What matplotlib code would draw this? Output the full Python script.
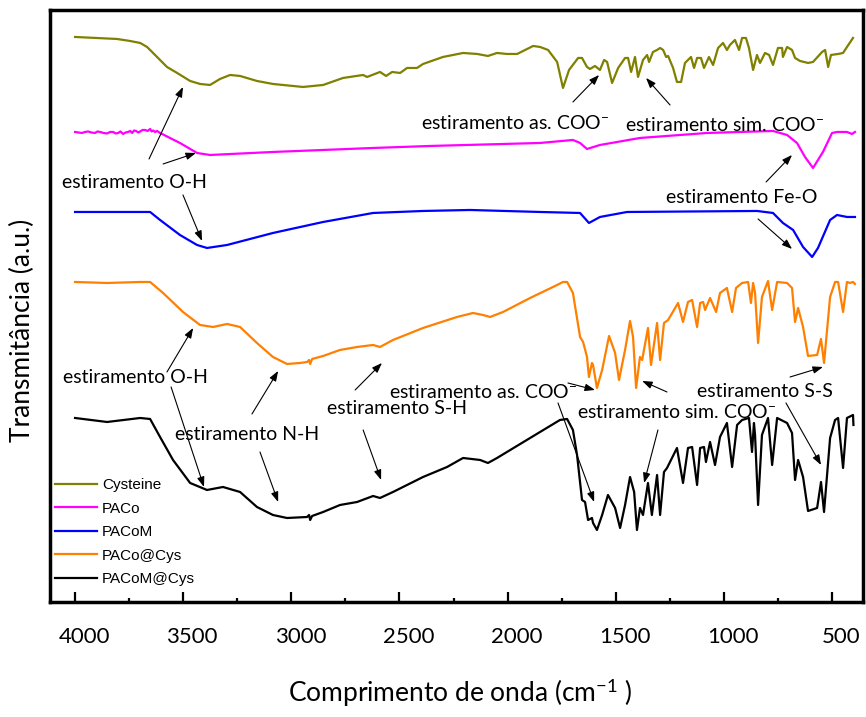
import matplotlib
matplotlib.use('Agg')
import matplotlib.pyplot as plt
from matplotlib.ticker import MultipleLocator
from matplotlib.transforms import ScaledTranslation
import numpy as np

plt.rcParams.update({
    'font.family': 'Lato',
    'mathtext.fontset': 'custom',
    'mathtext.rm': 'Lato',
    'mathtext.it': 'Lato:italic',
    'mathtext.bf': 'Lato:bold',
})

# FTIR spectra, (wavenumber cm-1, transmittance a.u. incl. stacking offset)
cysteine = [
    (4000, 565), (3806, 563), (3746, 561), (3699, 559), (3667, 555), (3630, 547),
    (3575, 535), (3528, 529), (3468, 521), (3422, 518), (3376, 517), (3330, 523),
    (3283, 527), (3237, 526), (3159, 521),
    (3085, 518), (2946, 515), (2853, 517), (2761, 524), (2668, 527), (2650, 525),
    (2590, 530), (2562, 526), (2534, 530), (2497, 529), (2465, 534), (2419, 534),
    (2391, 538), (2299, 545), (2206, 549), (2141, 548), (2091, 546), (2049, 549),
    (2003, 548), (1956, 548), (1882, 556), (1850, 555), (1813, 552), (1771, 540),
    (1744, 514), (1716, 532), (1674, 544), (1656, 544), (1633, 535), (1619, 533),
    (1596, 536), (1573, 532), (1554, 542), (1540, 540), (1517, 519), (1489, 534),
    (1457, 544), (1443, 544), (1429, 530), (1411, 545), (1397, 525), (1374, 542),
    (1355, 547), (1346, 540), (1328, 550), (1309, 552), (1295, 554), (1281, 552),
    (1267, 545), (1258, 546), (1235, 534), (1217, 520), (1198, 520), (1180, 539),
    (1152, 545), (1138, 534), (1124, 544), (1106, 544), (1092, 534), (1069, 545),
    (1050, 537), (1027, 554), (1004, 559), (986, 552), (972, 557), (949, 562),
    (930, 552), (916, 564), (898, 564), (884, 554), (865, 532), (847, 547),
    (833, 539), (810, 549), (791, 547), (773, 537), (750, 554), (731, 554),
    (727, 545), (708, 555), (685, 552), (671, 544), (648, 541), (611, 539),
    (588, 540), (546, 550), (532, 552), (518, 535), (505, 547), (472, 548),
    (449, 549), (431, 555), (403, 564),
]

paco = [
    (4000, 470), (3985, 469.5), (3968, 469), (3954, 470), (3940, 470.5), (3925, 469.5),
    (3908, 469), (3896, 470.5), (3884, 470), (3868, 469), (3852, 468.5), (3838, 470),
    (3824, 470), (3812, 468.5), (3801, 469), (3790, 470.5), (3778, 468), (3766, 469.5),
    (3755, 470), (3745, 471), (3736, 469), (3727, 471.5), (3718, 471), (3708, 469.5),
    (3699, 470.5), (3688, 472), (3676, 472), (3664, 471), (3653, 473), (3646, 470.5),
    (3639, 471.5), (3630, 470), (3621, 471), (3607, 469),
    (3515, 459), (3436, 449), (3376, 447), (3085, 450), (2622, 454), (2359, 456),
    (1850, 459), (1698, 462), (1665, 459), (1633, 453), (1573, 457), (1388, 464),
    (1078, 469), (773, 471), (708, 467), (662, 459), (625, 445), (588, 434),
    (542, 450), (500, 469), (477, 470), (431, 470), (408, 468), (394, 470),
]

pacom = [
    (4000, 390), (3653, 390), (3607, 382), (3515, 367), (3436, 357), (3390, 354),
    (3297, 357), (3085, 369), (2853, 380), (2622, 389), (2391, 391), (2174, 392),
    (1850, 390), (1665, 389), (1624, 379), (1573, 385), (1448, 390), (847, 391),
    (773, 389), (727, 379), (680, 372), (634, 355), (592, 345), (565, 354),
    (509, 382), (477, 387), (431, 385), (394, 385),
]

paco_cys = [
    (4000, 320), (3852, 319), (3699, 320), (3653, 320), (3593, 309), (3501, 290),
    (3422, 277), (3362, 275), (3297, 278), (3237, 275), (3159, 259), (3085, 245),
    (3020, 238), (2960, 239), (2927, 240), (2918, 242), (2913, 238), (2904, 243),
    (2853, 246), (2775, 252), (2696, 255), (2622, 257), (2590, 255), (2530, 262),
    (2391, 274), (2234, 285), (2160, 289), (2114, 287), (2081, 285), (2021, 290),
    (1896, 304), (1771, 317), (1744, 320), (1725, 320), (1698, 309), (1665, 265),
    (1651, 260), (1633, 245), (1624, 225), (1610, 239), (1605, 237), (1587, 214),
    (1563, 232), (1531, 266), (1503, 249), (1485, 222), (1457, 252), (1434, 281),
    (1420, 265), (1406, 214), (1388, 245), (1378, 242), (1351, 274), (1337, 237),
    (1309, 279), (1295, 242), (1277, 279), (1258, 282), (1212, 299), (1189, 280),
    (1166, 300), (1147, 302), (1124, 275), (1110, 299), (1096, 300), (1087, 292),
    (1064, 304), (1036, 290), (1018, 309), (986, 314), (962, 290), (944, 314),
    (916, 319), (888, 320), (875, 299), (865, 319), (856, 309), (842, 259),
    (824, 305), (796, 321), (777, 292), (754, 320), (708, 319), (685, 314),
    (671, 280), (657, 294), (634, 275), (611, 246), (569, 247), (551, 263),
    (537, 239), (509, 305), (486, 320), (472, 320), (449, 290), (431, 320),
    (417, 319), (403, 320), (394, 318),
]

pacom_cys = [
    (4000, 184), (3852, 180), (3699, 184), (3653, 183), (3607, 165), (3547, 142),
    (3468, 119), (3390, 112), (3316, 115), (3237, 110), (3159, 95), (3085, 87),
    (3020, 84), (2927, 85), (2918, 87), (2913, 82), (2904, 86), (2853, 90),
    (2775, 97), (2696, 100), (2622, 106), (2590, 104), (2530, 110), (2391, 125),
    (2280, 135), (2206, 144), (2127, 142), (2091, 139), (2049, 144), (1896, 164),
    (1758, 182), (1725, 183), (1698, 172), (1679, 147), (1656, 102), (1642, 100),
    (1628, 82), (1610, 84), (1605, 79), (1587, 72), (1563, 87), (1536, 107),
    (1503, 94), (1480, 74), (1457, 97), (1434, 125), (1415, 110), (1402, 72),
    (1388, 94), (1374, 87), (1351, 119), (1333, 87), (1309, 127), (1295, 87),
    (1277, 130), (1263, 134), (1217, 154), (1189, 119), (1166, 154), (1147, 155),
    (1124, 117), (1110, 154), (1092, 155), (1083, 140), (1064, 160), (1041, 137),
    (1018, 165), (986, 179), (962, 135), (939, 177), (916, 182), (884, 184),
    (870, 150), (861, 179), (856, 167), (842, 97), (824, 167), (796, 184),
    (777, 137), (754, 184), (708, 179), (685, 169), (671, 122), (657, 142),
    (634, 125), (611, 91), (569, 94), (551, 120), (537, 90), (509, 164),
    (486, 182), (472, 184), (449, 134), (431, 184), (403, 187), (401, 177),
]

names = ['Cysteine', 'PACo', 'PACoM', 'PACo@Cys', 'PACoM@Cys']
colors = ['#808000', '#FF00FF', '#0000FF', '#FF8000', '#000000']
spectra = [cysteine, paco, pacom, paco_cys, pacom_cys]

# band assignments: (text, left x in cm-1, y)
labels = [
    ('estiramento O-H', 4060, 419),
    ('estiramento as. COO$^{-}$', 2400, 479),
    ('estiramento sim. COO$^{-}$', 1457, 477),
    ('estiramento Fe-O', 1267, 404),
    ('estiramento O-H', 4055, 224),
    ('estiramento N-H', 3538, 167),
    ('estiramento S-H', 2835, 193),
    ('estiramento as. COO$^{-}$', 2548, 210),
    ('estiramento sim. COO$^{-}$', 1679, 190),
    ('estiramento S-S', 1124, 210),
]

# arrows: (tail, head)
arrows = [
    ((3658, 443), (3501, 515)),
    ((3593, 438), (3441, 449)),
    ((3501, 407), (3413, 361)),
    ((1698, 500), (1577, 527)),
    ((1249, 497), (1360, 524)),
    ((805, 420), (685, 447)),
    ((842, 383), (685, 353)),
    ((3575, 230), (3454, 274)),
    ((3556, 215), (3404, 115)),
    ((3182, 188), (3061, 231)),
    ((3145, 150), (3061, 100)),
    ((2705, 212), (2581, 239)),
    ((2668, 172), (2585, 122)),
    ((1721, 219), (1596, 212)),
    ((1767, 199), (1600, 100)),
    ((1263, 210), (1378, 221)),
    ((1305, 172), (1369, 119)),
    ((694, 225), (542, 235)),
    ((713, 199), (551, 137)),
]

fig = plt.figure(figsize=(8.66, 7.17), dpi=100)
ax = fig.add_axes([0.0577, 0.1604, 0.9388, 0.8257])

for name, data, color in zip(names, spectra, colors):
    arr = np.array(data, dtype=float)
    ax.plot(arr[:, 0], arr[:, 1], color=color, lw=1.6, label=name)

for text, x, y in labels:
    ax.text(x, y, text, fontsize=14, ha='left', va='center')

for tail, head in arrows:
    ax.annotate('', xy=head, xytext=tail,
                arrowprops=dict(arrowstyle='-|>,head_length=0.6,head_width=0.22',
                                lw=0.8, color='black', shrinkA=0, shrinkB=0))

ax.set_xlim(4116, 357)
ax.set_ylim(0, 592)
ax.set_yticks([])
ax.xaxis.set_major_locator(MultipleLocator(500))
ax.xaxis.set_minor_locator(MultipleLocator(250))
ax.tick_params(axis='x', which='major', direction='in', length=7, width=1.6,
               labelsize=16, pad=18, top=False)
ax.tick_params(axis='x', which='minor', direction='in', length=3, width=1.6, top=False)
for spine in ax.spines.values():
    spine.set_linewidth(2.5)

# tick labels sit slightly right of their ticks
shift = ScaledTranslation(0.09, 0, fig.dpi_scale_trans)
for lbl in ax.get_xticklabels():
    lbl.set_transform(lbl.get_transform() + shift)

ax.set_xlabel('Comprimento de onda (cm$^{-1}$ )', fontsize=19)
ax.xaxis.set_label_coords(0.505, -0.154)
ax.xaxis.label.set_va('center')
ax.set_ylabel('Transmitância (a.u.)', fontsize=19)
ax.yaxis.set_label_coords(-0.034, 0.458)
ax.yaxis.label.set_va('center')

ax.legend(loc='lower left', bbox_to_anchor=(0.006, 0.027), frameon=False,
          prop={'family': 'Liberation Sans', 'size': 11},
          handlelength=2.75, handletextpad=0.35, labelspacing=0.62,
          borderpad=0, borderaxespad=0)

fig.savefig('out.png', dpi=100)
